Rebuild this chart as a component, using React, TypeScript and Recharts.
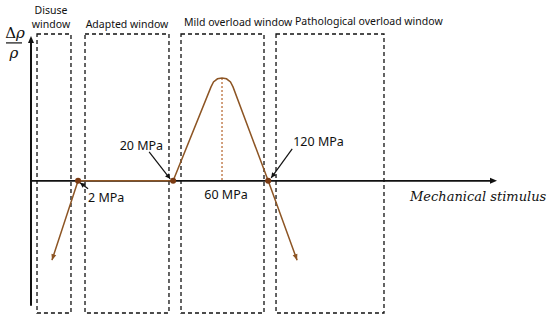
import { ComposedChart, Line, XAxis, YAxis, ReferenceArea, ReferenceLine, ReferenceDot } from 'recharts'

// schematic units: x 0..100 along the stimulus axis, y -0.9..1 for Δρ/ρ
const curveX = [4.5, 10.1, 30.5, 38.63, 39.16, 40.02, 40.99, 41.95, 42.81, 43.35, 50.9, 57.1]
const curveY = [-0.54, 0, 0, 0.64, 0.674, 0.695, 0.701, 0.695, 0.674, 0.64, 0, -0.54]

const windowNames = [['Disuse', 'window'], ['Adapted window'], ['Mild overload window'], ['Pathological overload window']]
const windowStart = [1.29, 11.59, 32.19, 52.58]
const windowEnd = [8.58, 29.61, 50.0, 75.75]

const thresholdLabels = ['2 MPa', '20 MPa', '60 MPa', '120 MPa']
const thresholdX = [10.1, 30.5, 40.99, 50.9]
const peakY = 0.701

const axisLabel = 'Mechanical stimulus'

const lineData = curveX.map((x, i) => ({ x, y: curveY[i] }))

const BROWN = '#8d5524'
const DOT = '#7a3a12'
const FONT = '"Noto Sans", sans-serif'

// title placement per window: anchor + x shift + baseline(s)
const titleLayout = [
  { anchor: 'middle', dx: -3, ys: [14, 28] },
  { anchor: 'middle', dx: 0, ys: [28] },
  { anchor: 'start', dx: 3, ys: [26] },
  { anchor: 'start', dx: 19, ys: [25] },
]

// annotation offsets (px) relative to each threshold point
const noteLayout = [
  { tx: 10, ty: 21, anchor: 'start', ax: [10, 8], ah: [2, 2] },
  { tx: -10, ty: -31, anchor: 'end', ax: [-24, -29], ah: [-3, -2] },
  { tx: 4, ty: 18, anchor: 'middle', ax: null, ah: null },
  { tx: 25, ty: -35, anchor: 'start', ax: [24, -32], ah: [3, -3] },
]

function arrowHead(x: number, y: number, fromX: number, fromY: number, len: number, half: number, color: string) {
  const a = Math.atan2(y - fromY, x - fromX)
  const bx = x - len * Math.cos(a)
  const by = y - len * Math.sin(a)
  const px = -Math.sin(a) * half
  const py = Math.cos(a) * half
  return <polygon points={`${x},${y} ${bx + px},${by + py} ${bx - px},${by - py}`} fill={color} />
}

function WindowTitle(i: number) {
  return (props: any) => {
    const vb = props.viewBox
    const l = titleLayout[i]
    const x = l.anchor === 'middle' ? vb.x + vb.width / 2 + l.dx : vb.x + l.dx
    return (
      <g>
        {windowNames[i].map((t, k) => (
          <text key={k} x={x} y={l.ys[k]} textAnchor={l.anchor} fontSize={10.5} fontFamily={FONT} fill="#111">
            {t}
          </text>
        ))}
      </g>
    )
  }
}

function ThresholdShape(i: number) {
  return (props: any) => {
    const { cx, cy } = props
    const l = noteLayout[i]
    return (
      <g>
        {l.ax && (
          <g>
            <line x1={cx + l.ax[0]} y1={cy + l.ax[1]} x2={cx + l.ah[0]} y2={cy + l.ah[1]} stroke="#111" strokeWidth={1.2} />
            {arrowHead(cx + l.ah[0], cy + l.ah[1], cx + l.ax[0], cy + l.ax[1], 5, 2.5, '#111')}
          </g>
        )}
        {l.ax && <circle cx={cx} cy={cy} r={3} fill={DOT} />}
        <text x={cx + l.tx} y={cy + l.ty} textAnchor={l.anchor} fontSize={12.5} fontFamily={FONT} fill="#111">
          {thresholdLabels[i]}
        </text>
      </g>
    )
  }
}

const XAxisShape = (props: any) => {
  const { x1, y1, x2 } = props
  return (
    <g>
      <line x1={x1} y1={y1} x2={x2 - 4} y2={y1} stroke="#111" strokeWidth={1.6} />
      {arrowHead(x2, y1, x1, y1, 7, 3, '#111')}
      <text x={x2 - 87} y={y1 + 20} fontSize={13} fontStyle="italic" fontFamily='"DejaVu Serif", serif' fill="#111">
        {axisLabel}
      </text>
    </g>
  )
}

const YAxisShape = (props: any) => {
  const { x1, y1, y2 } = props
  const top = Math.min(y1, y2)
  const bottom = Math.max(y1, y2)
  return (
    <g>
      <line x1={x1} y1={bottom} x2={x1} y2={top + 4} stroke="#111" strokeWidth={2} />
      {arrowHead(x1, top, x1, bottom, 7, 3, '#111')}
      <text x={x1 - 16} y={top + 2} textAnchor="middle" fontSize={15} fontFamily='"DejaVu Serif", serif' fill="#111">
        Δ<tspan fontStyle="italic">ρ</tspan>
      </text>
      <line x1={x1 - 25} y1={top + 7} x2={x1 - 9} y2={top + 7} stroke="#111" strokeWidth={1.2} />
      <text x={x1 - 17} y={top + 22} textAnchor="middle" fontSize={15} fontStyle="italic" fontFamily='"DejaVu Serif", serif' fill="#111">
        ρ
      </text>
    </g>
  )
}

const renderEndArrows = (props: any) => {
  const { cx, cy, index, points } = props
  const last = curveX.length - 1
  if ((index === 0 || index === last) && points && points.length > 1) {
    const n = points[index === 0 ? 1 : last - 1]
    return <g key={`dot-${index}`}>{arrowHead(cx, cy, n.x, n.y, 6, 2.5, BROWN)}</g>
  }
  return <g key={`dot-${index}`} />
}

export default function App() {
  return (
    <div style={{ width: 550, height: 322, background: '#fff' }}>
      <style>{'body{margin:0}'}</style>
      <ComposedChart width={550} height={322} data={lineData} margin={{ top: 34, right: 53, bottom: 9, left: 31 }}>
        <XAxis dataKey="x" type="number" domain={[0, 100]} hide />
        <YAxis type="number" domain={[-0.9, 1]} hide />
        {windowNames.map((_, i) => (
          <ReferenceArea
            key={i}
            x1={windowStart[i]}
            x2={windowEnd[i]}
            y1={-0.9}
            y2={1}
            fill="none"
            fillOpacity={0}
            stroke="#111"
            strokeWidth={1.3}
            strokeDasharray="4 3"
            label={WindowTitle(i)}
          />
        ))}
        <ReferenceLine y={0} stroke="#111" shape={XAxisShape} />
        <ReferenceLine segment={[{ x: 0, y: -0.851 }, { x: 0, y: 0.987 }]} stroke="#111" shape={YAxisShape} />
        <ReferenceLine
          segment={[{ x: thresholdX[2], y: peakY }, { x: thresholdX[2], y: 0 }]}
          stroke="#b5622a"
          strokeWidth={1.2}
          strokeDasharray="2 2"
        />
        <Line
          type="linear"
          dataKey="y"
          stroke={BROWN}
          strokeWidth={1.5}
          dot={renderEndArrows}
          activeDot={false}
          isAnimationActive={false}
        />
        {thresholdLabels.map((_, i) => (
          <ReferenceDot key={i} x={thresholdX[i]} y={0} r={3} shape={ThresholdShape(i)} />
        ))}
      </ComposedChart>
    </div>
  )
}
